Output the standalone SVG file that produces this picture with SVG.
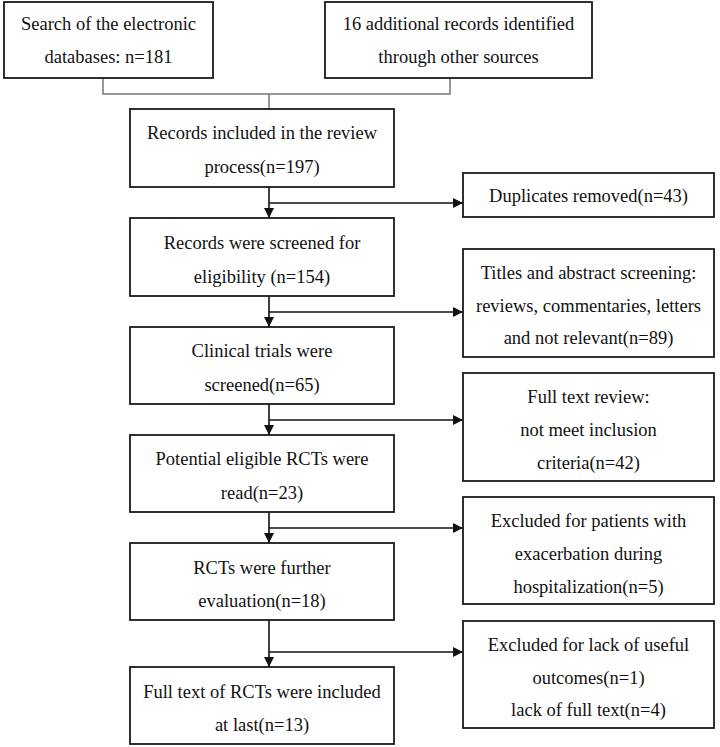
<svg xmlns="http://www.w3.org/2000/svg" width="720" height="747" viewBox="0 0 720 747">
<style>
.box{fill:#fff;stroke:#1a1a1a;stroke-width:1.8}
.t{font-family:"Liberation Serif","Times New Roman",serif;font-size:18.5px;fill:#111;text-anchor:middle}
.ln{stroke:#111;stroke-width:1.6;fill:none}
.gl{stroke:#777;stroke-width:1.5;fill:none}
</style>
<defs>
<marker id="ah" viewBox="0 0 10 10" refX="10" refY="5" markerWidth="10" markerHeight="10" markerUnits="userSpaceOnUse" orient="auto">
<path d="M0,0 L10,5 L0,10 Z" fill="#111"/>
</marker>
</defs>
<rect width="720" height="747" fill="#fff"/>
<g id="connectors">
<path class="gl" d="M103,78 V94 H450 V78 M269,94 V109"/>
<path class="ln" d="M269,187 V218" marker-end="url(#ah)"/>
<path class="ln" d="M269,203 H463" marker-end="url(#ah)"/>
<path class="ln" d="M269,296 V327" marker-end="url(#ah)"/>
<path class="ln" d="M269,312 H463" marker-end="url(#ah)"/>
<path class="ln" d="M269,404 V435" marker-end="url(#ah)"/>
<path class="ln" d="M269,420 H463" marker-end="url(#ah)"/>
<path class="ln" d="M269,512 V543" marker-end="url(#ah)"/>
<path class="ln" d="M269,528 H463" marker-end="url(#ah)"/>
<path class="ln" d="M269,620 V667" marker-end="url(#ah)"/>
<path class="ln" d="M269,652 H463" marker-end="url(#ah)"/>
</g>
<g id="n1"><rect class="box" x="4" y="2" width="209" height="76"/>
<text class="t" x="108.5" y="29.5">Search of the electronic</text>
<text class="t" x="108.5" y="62.5">databases: n=181</text></g>
<g id="n2"><rect class="box" x="325" y="2" width="267" height="76"/>
<text class="t" x="458.5" y="29.5">16 additional records identified</text>
<text class="t" x="458.5" y="62.5">through other sources</text></g>
<g id="n3"><rect class="box" x="130" y="109" width="264" height="78"/>
<text class="t" x="262" y="139">Records included in the review</text>
<text class="t" x="262" y="173">process(n=197)</text></g>
<g id="n4"><rect class="box" x="130" y="218" width="264" height="78"/>
<text class="t" x="262" y="249">Records were screened for</text>
<text class="t" x="262" y="283">eligibility (n=154)</text></g>
<g id="n5"><rect class="box" x="130" y="327" width="264" height="77"/>
<text class="t" x="262" y="357">Clinical trials were</text>
<text class="t" x="262" y="391">screened(n=65)</text></g>
<g id="n6"><rect class="box" x="130" y="435" width="264" height="77"/>
<text class="t" x="262" y="465">Potential eligible RCTs were</text>
<text class="t" x="262" y="499">read(n=23)</text></g>
<g id="n7"><rect class="box" x="130" y="543" width="264" height="77"/>
<text class="t" x="262" y="574">RCTs were further</text>
<text class="t" x="262" y="607">evaluation(n=18)</text></g>
<g id="n8"><rect class="box" x="130" y="667" width="264" height="77"/>
<text class="t" x="262" y="698">Full text of RCTs were included</text>
<text class="t" x="262" y="731">at last(n=13)</text></g>
<g id="r1"><rect class="box" x="463" y="173" width="251" height="44"/>
<text class="t" x="588.5" y="202">Duplicates removed(n=43)</text></g>
<g id="r2"><rect class="box" x="463" y="249" width="251" height="108"/>
<text class="t" x="588.5" y="279">Titles and abstract screening:</text>
<text class="t" x="588.5" y="312">reviews, commentaries, letters</text>
<text class="t" x="588.5" y="344">and not relevant(n=89)</text></g>
<g id="r3"><rect class="box" x="463" y="373" width="251" height="108"/>
<text class="t" x="588.5" y="403">Full text review:</text>
<text class="t" x="588.5" y="436">not meet inclusion</text>
<text class="t" x="588.5" y="469">criteria(n=42)</text></g>
<g id="r4"><rect class="box" x="463" y="497" width="251" height="107"/>
<text class="t" x="588.5" y="527">Excluded for patients with</text>
<text class="t" x="588.5" y="560">exacerbation during</text>
<text class="t" x="588.5" y="593">hospitalization(n=5)</text></g>
<g id="r5"><rect class="box" x="463" y="621" width="251" height="107"/>
<text class="t" x="588.5" y="651">Excluded for lack of useful</text>
<text class="t" x="588.5" y="684">outcomes(n=1)</text>
<text class="t" x="588.5" y="716">lack of full text(n=4)</text></g>
</svg>
